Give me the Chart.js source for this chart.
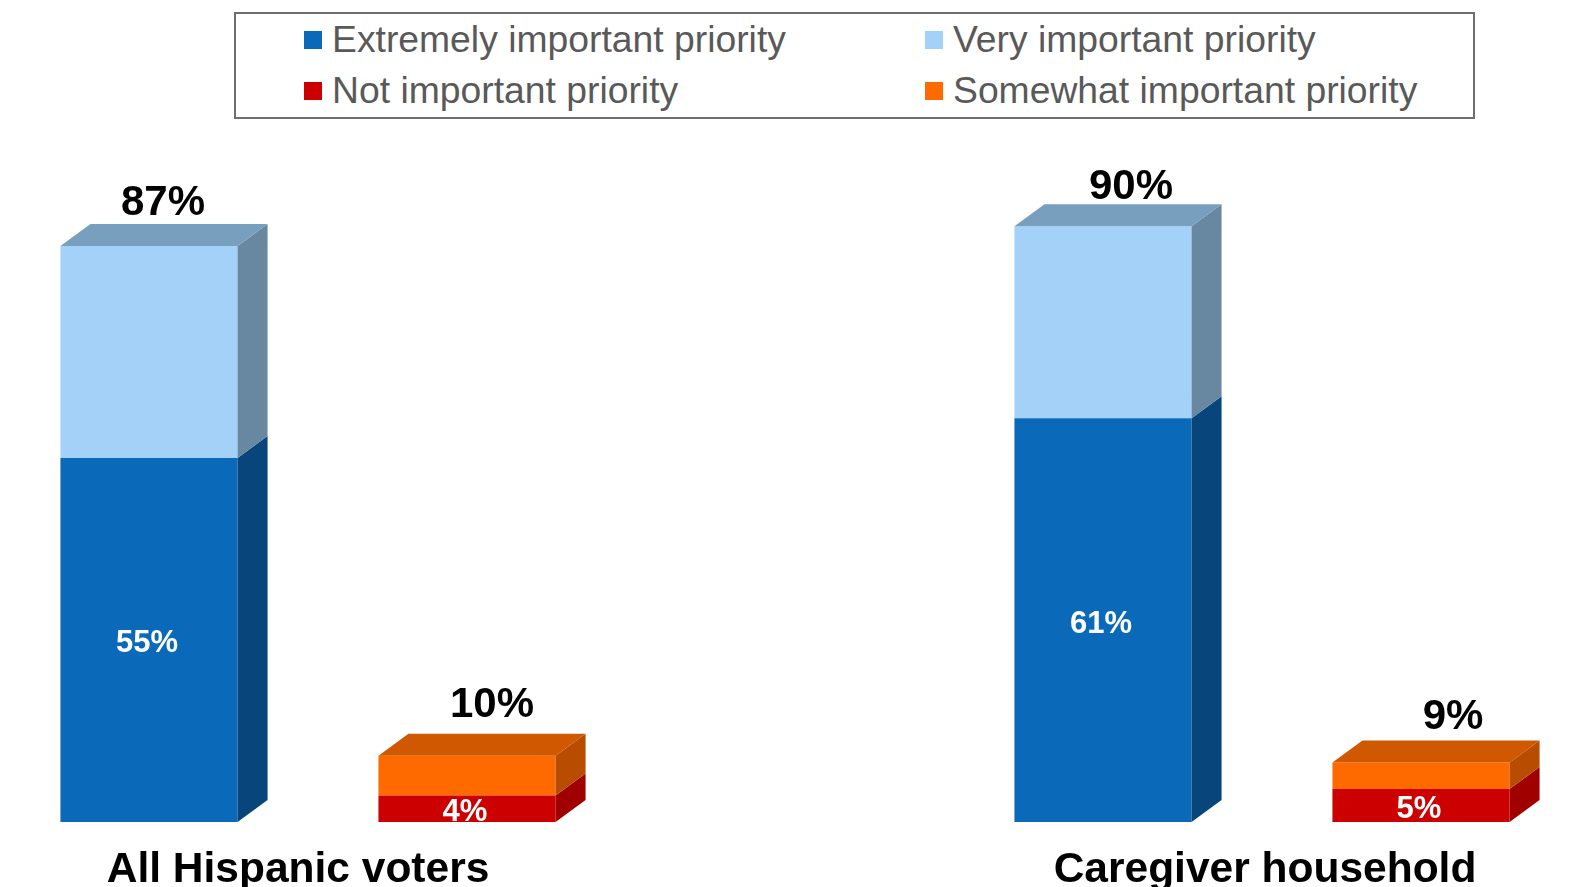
<!DOCTYPE html>
<html>
<head>
<meta charset="utf-8">
<script src="https://cdn.jsdelivr.net/npm/chart.js@4.4.1/dist/chart.umd.min.js"></script>
<style>
  html, body { margin: 0; padding: 0; background: #fff; overflow: hidden; }
  body { width: 1585px; height: 887px; position: relative; font-family: "Liberation Sans", Arial, sans-serif; }
  #wrap { position: absolute; left: -10px; top: 0; width: 1590px; height: 887px; }
  #legend { position: absolute; left: 234px; top: 12px; width: 1237px; height: 103px; border: 2px solid #6e6e6e; background: #fff; }
  .item { position: absolute; display: flex; align-items: center; color: #595959; font-size: 37.3px; line-height: 1; white-space: nowrap; }
  .item i { display: inline-block; width: 18px; height: 18px; margin-right: 10px; }
</style>
</head>
<body>
<div id="wrap"><canvas id="chart" width="1590" height="887"></canvas></div>
<div id="legend"></div>
<script>
// data
const groups = ["All Hispanic voters", "Caregiver household"];
const seriesNames = ["Extremely important priority", "Very important priority", "Not important priority", "Somewhat important priority"];
const extremely = [55, 61];
const very = [32, 29];
const notImportant = [4, 5];
const somewhat = [6, 4];
const importantTotals = [87, 90];
const notImportantTotals = [10, 9];

// colours: front, side, top
const colors = [
  { front: "#0b69b9", side: "#07457a", top: "#2a6aa5" },
  { front: "#a3d1f8", side: "#6887a0", top: "#799fbe" },
  { front: "#cc0000", side: "#a00000", top: "#b01000" },
  { front: "#ff6a00", side: "#b84c00", top: "#cf5800" }
];

// 5 slots: group0 important, group0 not important, gap, group1 important, group1 not important
const slotLabels = ["", "", "", "", ""];
function importantSlots(v) { return [v[0], null, null, v[1], null]; }
function notSlots(v) { return [null, v[0], null, null, v[1]]; }
const slotTotals = [importantTotals[0], notImportantTotals[0], null, importantTotals[1], notImportantTotals[1]];

const DX = 30, DY = 22;
const FONT = '"Liberation Sans", Arial, sans-serif';
// hand nudges for the labels, as placed in the original
const totalNudge = [[-10, 4], [1, -3], [0, 0], [4, 8], [8, 2]];
const groupNudge = [-10, 3];

// legend
const legend = document.getElementById("legend");
seriesNames.forEach((name, i) => {
  const div = document.createElement("div");
  div.className = "item";
  div.style.left = (i % 2 === 0 ? 68 : 689) + "px";
  div.style.top = (i < 2 ? 26 : 77) - 19 + "px";
  div.innerHTML = `<i style="background:${colors[i].front}"></i><span>${name}</span>`;
  legend.appendChild(div);
});

const bars3d = {
  id: "bars3d",
  afterDatasetsDraw(chart) {
    const ctx = chart.ctx;
    const tops = {};
    chart.data.datasets.forEach((ds, di) => {
      const meta = chart.getDatasetMeta(di);
      meta.data.forEach((bar, i) => {
        if (ds.data[i] == null) return;
        const half = bar.width / 2;
        const r = bar.x + half;
        ctx.fillStyle = colors[di].side;
        ctx.beginPath();
        ctx.moveTo(r, bar.y);
        ctx.lineTo(r + DX, bar.y - DY);
        ctx.lineTo(r + DX, bar.base - DY);
        ctx.lineTo(r, bar.base);
        ctx.closePath();
        ctx.fill();
        if (!tops[i] || bar.y < tops[i].bar.y) tops[i] = { bar, di };
      });
    });
    Object.keys(tops).forEach(i => {
      const { bar, di } = tops[i];
      const l = bar.x - bar.width / 2, r = bar.x + bar.width / 2;
      ctx.fillStyle = colors[di].top;
      ctx.beginPath();
      ctx.moveTo(l, bar.y);
      ctx.lineTo(l + DX, bar.y - DY);
      ctx.lineTo(r + DX, bar.y - DY);
      ctx.lineTo(r, bar.y);
      ctx.closePath();
      ctx.fill();
      // total above the box
      ctx.fillStyle = "#000";
      ctx.font = "bold 42px " + FONT;
      ctx.textAlign = "center";
      ctx.textBaseline = "middle";
      ctx.fillText(slotTotals[i] + "%", bar.x + 24 + totalNudge[i][0], bar.y - DY - 25 + totalNudge[i][1]);
    });
    // white labels inside the bottom segments
    [0, 2].forEach(di => {
      const meta = chart.getDatasetMeta(di);
      meta.data.forEach((bar, i) => {
        const v = chart.data.datasets[di].data[i];
        if (v == null) return;
        ctx.fillStyle = "#fff";
        ctx.font = "bold 31px " + FONT;
        ctx.textAlign = "center";
        ctx.textBaseline = "middle";
        ctx.fillText(v + "%", bar.x - 2, (bar.y + bar.base) / 2 + 4);
      });
    });
    // group labels
    const xs = chart.scales.x;
    ctx.fillStyle = "#000";
    ctx.font = "bold 42.5px " + FONT;
    ctx.textAlign = "center";
    ctx.textBaseline = "middle";
    groups.forEach((g, k) => {
      const a = xs.getPixelForValue(k * 3), b = xs.getPixelForValue(k * 3 + 1);
      ctx.fillText(g, (a + b) / 2 + groupNudge[k], 870);
    });
  }
};

new Chart(document.getElementById("chart"), {
  type: "bar",
  data: {
    labels: slotLabels,
    datasets: [
      { label: seriesNames[0], data: importantSlots(extremely), backgroundColor: colors[0].front },
      { label: seriesNames[1], data: importantSlots(very), backgroundColor: colors[1].front },
      { label: seriesNames[2], data: notSlots(notImportant), backgroundColor: colors[2].front },
      { label: seriesNames[3], data: notSlots(somewhat), backgroundColor: colors[3].front }
    ]
  },
  options: {
    responsive: false,
    animation: false,
    devicePixelRatio: 1,
    layout: { padding: { top: 160, bottom: 65, left: 0, right: 0 } },
    datasets: { bar: { categoryPercentage: 1, barPercentage: 0.557, skipNull: true } },
    plugins: { legend: { display: false }, tooltip: { enabled: false } },
    scales: {
      x: { display: false, stacked: true },
      y: { display: false, stacked: true, min: 0, max: 100 }
    }
  },
  plugins: [bars3d]
});
</script>
</body>
</html>
